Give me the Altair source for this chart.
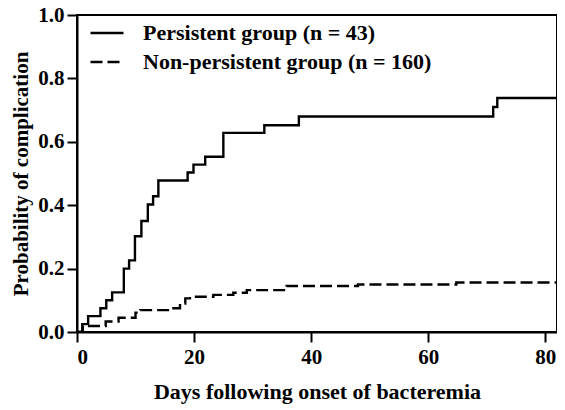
import altair as alt
import pandas as pd

series_names = ["Persistent group (n = 43)", "Non-persistent group (n = 160)"]

persistent_days = [0, 0.9, 1.9, 4.0, 5.0, 6.0, 8.0, 8.9, 9.9, 11.0, 12.1, 13.0, 13.9,
                   18.9, 19.9, 21.9, 25.0, 32.0, 37.9, 71.1, 71.8, 82]
persistent_prob = [0, 0.025, 0.05, 0.075, 0.10, 0.125, 0.20, 0.226, 0.302, 0.35, 0.402,
                   0.428, 0.478, 0.503, 0.528, 0.553, 0.628, 0.652, 0.68, 0.71, 0.738, 0.738]

nonpersistent_days = [0, 1.0, 4.9, 7.1, 10.0, 10.8, 15.9, 17.6, 18.5, 19.3, 23.3, 26.7,
                      29.0, 35.8, 48.0, 64.8, 82]
nonpersistent_prob = [0, 0.019, 0.033, 0.045, 0.061, 0.069, 0.075, 0.090, 0.106, 0.111,
                      0.117, 0.124, 0.132, 0.145, 0.150, 0.156, 0.156]

x_ticks = [0, 20, 40, 60, 80]
y_ticks = [0.0, 0.2, 0.4, 0.6, 0.8, 1.0]

rows = []
for d, p in zip(persistent_days, persistent_prob):
    rows.append({"day": d, "prob": p, "group": series_names[0]})
for d, p in zip(nonpersistent_days, nonpersistent_prob):
    rows.append({"day": d, "prob": p, "group": series_names[1]})
df = pd.DataFrame(rows)

FONT = "Liberation Serif"

chart = alt.Chart(df).mark_line(
    interpolate="step-after", color="black", strokeWidth=2.4, clip=True
).encode(
    x=alt.X("day:Q", scale=alt.Scale(domain=[0, 82], nice=False, zero=False),
            axis=alt.Axis(values=x_ticks, title="Days following onset of bacteremia",
                          grid=False, format="d")),
    y=alt.Y("prob:Q", scale=alt.Scale(domain=[0, 1], nice=False),
            axis=alt.Axis(values=y_ticks, title="Probability of complication",
                          grid=False, format=".1f")),
    strokeDash=alt.StrokeDash(
        "group:N",
        scale=alt.Scale(domain=series_names, range=[[1, 0], [12, 5]]),
        legend=alt.Legend(
            title=None, orient="none", legendX=12, legendY=0,
            symbolType="stroke", symbolSize=1089, symbolStrokeWidth=2.4,
            symbolStrokeColor="black",
            labelFont=FONT, labelFontSize=22, labelFontWeight="bold",
            labelColor="black", labelOffset=18, rowPadding=-4,
            labelLimit=500,
        ),
    ),
    detail="group:N",
).properties(
    width=480, height=317,
    padding={"left": 69, "top": 7, "right": 0, "bottom": 72},
    autosize=alt.AutoSizeParams(type="none"),
    background="white",
).configure_view(
    stroke="black", strokeWidth=2
).configure_axis(
    domainColor="black", domainWidth=2,
    tickColor="black", tickWidth=2, tickSize=10,
    labelFont=FONT, labelFontSize=21, labelFontWeight="bold", labelColor="black",
    titleFont=FONT, titleFontSize=22, titleFontWeight="bold", titleColor="black",
    labelPadding=3,
).configure_axisX(
    titlePadding=14, labelPadding=4
).configure_axisY(
    titlePadding=6, titleFontSize=21
)

chart.save("out.html", embed_options={"renderer": "svg", "actions": False})
